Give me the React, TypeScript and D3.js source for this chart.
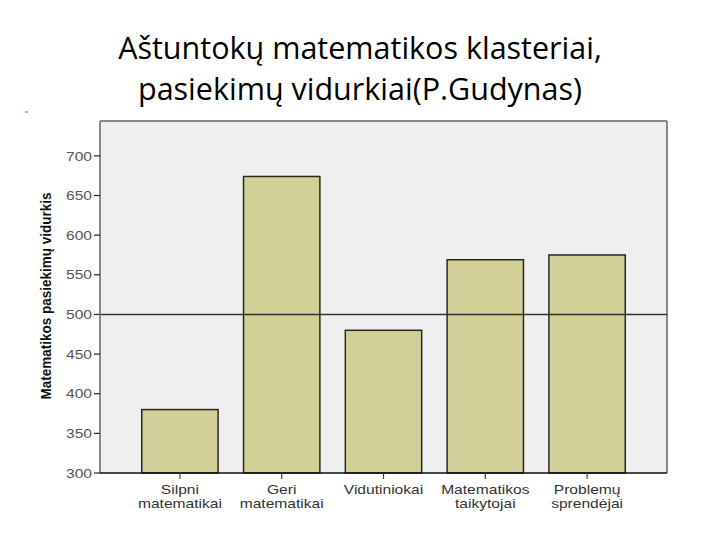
import React from "react";
import * as d3 from "d3";

const categories: string[][] = [
  ["Silpni", "matematikai"],
  ["Geri", "matematikai"],
  ["Vidutiniokai"],
  ["Matematikos", "taikytojai"],
  ["Problemų", "sprendėjai"],
];
const values: number[] = [380, 674, 480, 569, 575];
const yTicks: number[] = [300, 350, 400, 450, 500, 550, 600, 650, 700];
const referenceValue = 500;
const titleLines = ["Aštuntokų matematikos klasteriai,", "pasiekimų vidurkiai(P.Gudynas)"];
const yTitle = "Matematikos pasiekimų vidurkis";

export default function App() {
  const W = 720, H = 540;
  const left = 100, right = 667, top = 121, bottom = 473;
  const y = d3.scaleLinear().domain([300, 744]).range([bottom, top]);
  const x = d3
    .scaleBand<number>()
    .domain(values.map((_, i) => i))
    .range([left, right])
    .paddingInner(0.25)
    .paddingOuter(0.41);
  const font = "'Liberation Sans', Arial, sans-serif";
  const sx = 1.2;
  return (
    <svg
      width={W}
      height={H}
      style={{ position: "absolute", left: 0, top: 0, background: "#fff" }}
    >
      <rect x={25} y={111} width={3} height={2} fill="#d8c040" />
      {titleLines.map((t, i) => (
        <text
          key={i}
          x={360}
          y={58.5 + i * 41.5}
          textAnchor="middle"
          fontFamily="'Open Sans', sans-serif"
          fontSize={30.5}
          fill="#000"
        >
          {t}
        </text>
      ))}
      <rect x={left} y={top} width={right - left} height={bottom - top} fill="#efefef" />
      <line x1={left} x2={right} y1={top} y2={top} stroke="#888" strokeWidth={2} />
      <line x1={right} x2={right} y1={top} y2={bottom} stroke="#888" strokeWidth={2} />
      {values.map((v, i) => (
        <rect
          key={i}
          x={x(i)!}
          y={y(v)}
          width={x.bandwidth()}
          height={bottom - y(v)}
          fill="#d3cf98"
          stroke="#2a2a1a"
          strokeWidth={1.5}
        />
      ))}
      <line
        x1={left}
        x2={right}
        y1={y(referenceValue)}
        y2={y(referenceValue)}
        stroke="#333"
        strokeWidth={1.5}
      />
      <line x1={left} x2={left} y1={top} y2={bottom} stroke="#888" strokeWidth={2} />
      <line x1={left} x2={right} y1={bottom} y2={bottom} stroke="#111" strokeWidth={1.5} />
      {yTicks.map((t) => (
        <g key={t}>
          <line x1={94} x2={left} y1={y(t)} y2={y(t)} stroke="#222" strokeWidth={1.2} />
          <g transform={`translate(92,${y(t)}) scale(${sx},1)`}>
            <text
              dy="0.36em"
              textAnchor="end"
              fontFamily={font}
              fontSize={13}
              fill="#555"
            >
              {t}
            </text>
          </g>
        </g>
      ))}
      {categories.map((lines, i) => {
        const cx = x(i)! + x.bandwidth() / 2;
        return (
          <g key={i}>
            <line x1={cx} x2={cx} y1={bottom} y2={bottom + 6} stroke="#444" strokeWidth={1.2} />
            {lines.map((l, j) => (
              <g key={j} transform={`translate(${cx},${494 + j * 14}) scale(${sx},1)`}>
                <text textAnchor="middle" fontFamily={font} fontSize={13} fill="#333">
                  {l}
                </text>
              </g>
            ))}
          </g>
        );
      })}
      <g transform={`translate(51,${296}) rotate(-90) scale(0.9,1)`}>
        <text
          textAnchor="middle"
          fontFamily={font}
          fontSize={15}
          fontWeight="bold"
          fill="#111"
        >
          {yTitle}
        </text>
      </g>
    </svg>
  );
}
